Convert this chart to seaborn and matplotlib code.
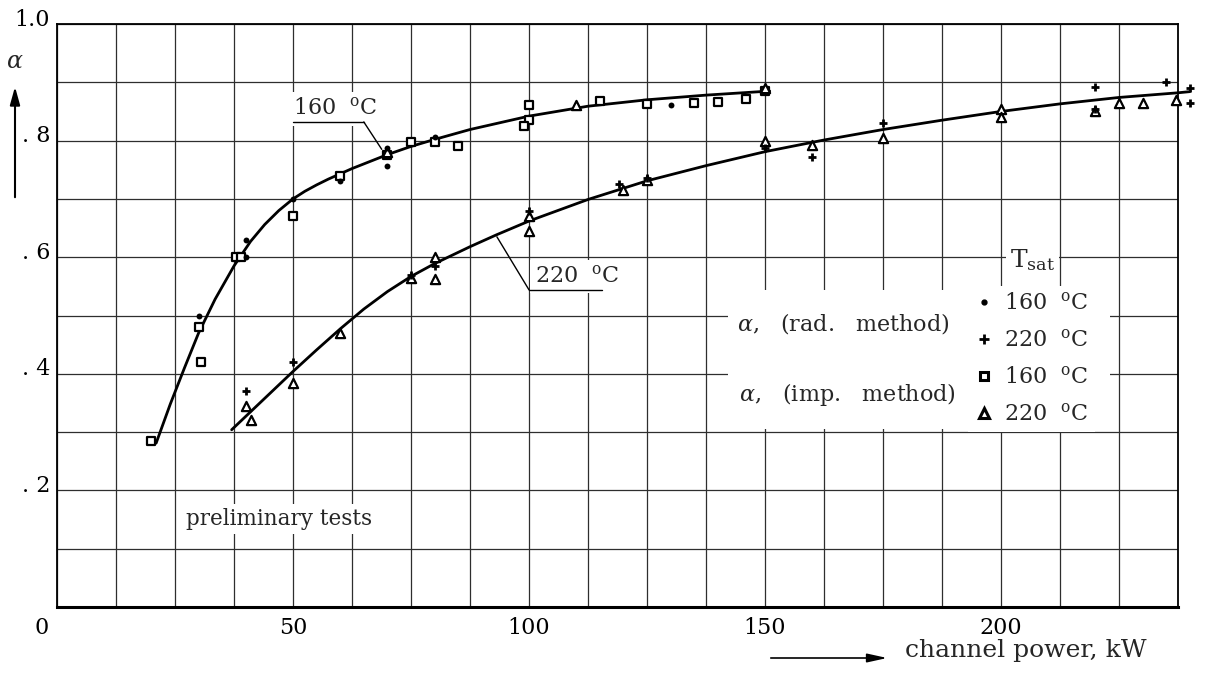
import numpy as np
import pandas as pd
import matplotlib
matplotlib.use("Agg")
import matplotlib.pyplot as plt
import seaborn as sns
from matplotlib.lines import Line2D
from matplotlib.patches import Rectangle
from matplotlib.transforms import ScaledTranslation

# ---------------- data ----------------
# fitted curves
curve160_x = [21, 24, 27, 30, 33.5, 37.5, 41, 44, 47, 50, 52.5, 55, 57.5, 60, 62.5,
              65, 70, 75, 80, 87.5, 100, 112.5, 125, 137.5, 151]
curve160_y = [0.281, 0.348, 0.410, 0.470, 0.528, 0.585, 0.627, 0.656, 0.680, 0.700,
              0.713, 0.724, 0.734, 0.743, 0.752, 0.760, 0.776, 0.790, 0.802, 0.819,
              0.842, 0.859, 0.870, 0.878, 0.885]
curve220_x = [37, 43.5, 50, 55, 60, 65, 70, 75, 80, 87.5, 93, 100, 112.5, 125, 137.5,
              150, 162.5, 175, 187.5, 200, 212.5, 225, 237.5, 240]
curve220_y = [0.304, 0.354, 0.404, 0.441, 0.477, 0.511, 0.541, 0.567, 0.589, 0.618,
              0.638, 0.662, 0.699, 0.731, 0.757, 0.781, 0.801, 0.819, 0.835, 0.850,
              0.863, 0.874, 0.882, 0.884]

# alpha, radiation method
rad160_x = [30, 40, 40, 50, 60, 70, 70, 80, 130]
rad160_y = [0.50, 0.60, 0.63, 0.70, 0.73, 0.787, 0.757, 0.806, 0.861]
rad220_x = [40, 50, 75, 80, 100, 119, 125, 150, 160, 175, 220, 220, 235, 240, 240]
rad220_y = [0.37, 0.42, 0.57, 0.585, 0.68, 0.726, 0.735, 0.787, 0.772, 0.83, 0.892,
            0.855, 0.90, 0.891, 0.864]

# alpha, impedance method
imp160_x = [20, 30, 30.5, 38, 39, 50, 60, 70, 75, 80, 85, 100, 100, 99, 115, 125,
            135, 140, 146, 150]
imp160_y = [0.285, 0.48, 0.42, 0.60, 0.60, 0.67, 0.74, 0.775, 0.797, 0.797, 0.79,
            0.861, 0.835, 0.825, 0.868, 0.863, 0.865, 0.866, 0.871, 0.885]
imp220_x = [40, 41, 50, 60, 70, 75, 80, 80, 100, 100, 110, 120, 125, 150, 150, 160,
            175, 200, 200, 220, 225, 230, 237]
imp220_y = [0.345, 0.32, 0.385, 0.47, 0.78, 0.565, 0.60, 0.562, 0.67, 0.645, 0.861,
            0.715, 0.732, 0.80, 0.89, 0.792, 0.805, 0.855, 0.84, 0.85, 0.864, 0.865,
            0.87]

xtick_vals = [0, 50, 100, 150, 200]
xtick_labels = ["0", "50", "100", "150", "200"]
ytick_vals = [0.2, 0.4, 0.6, 0.8, 1.0]
ytick_labels = [". 2", ". 4", ". 6", ". 8", "1.0"]
legend_labels = [r"160  $^{\mathrm{o}}$C", r"220  $^{\mathrm{o}}$C",
                 r"160  $^{\mathrm{o}}$C", r"220  $^{\mathrm{o}}$C"]

# ---------------- style ----------------
sns.set_theme(style="white")
plt.rcParams['font.family'] = ['DejaVu Serif']
plt.rcParams['mathtext.fontset'] = 'dejavuserif'
FS = 16

W, H = 1207, 673
fig = plt.figure(figsize=(W / 100, H / 100), dpi=100)
ax = fig.add_axes([57 / W, 1 - 607 / H, (1178 - 57) / W, (607 - 24) / H])
ax.set_xlim(0, 237.5)
ax.set_ylim(0, 1.0)

# grid every 12.5 kW and 0.1
ax.set_xticks(xtick_vals)
ax.set_xticklabels(xtick_labels)
ax.set_xticks(np.arange(12.5, 237.5, 12.5), minor=True)
ax.set_yticks(ytick_vals)
ax.set_yticklabels(ytick_labels)
ax.set_yticks(np.arange(0.1, 1.0, 0.1), minor=True)
ax.set_axisbelow(True)
ax.grid(which='both', color='#2e2e2e', linewidth=0.9)
ax.tick_params(axis='both', which='both', length=0, labelsize=FS, colors='black')
ax.tick_params(axis='x', pad=7)
ax.tick_params(axis='y', pad=5)
for sp in ax.spines.values():
    sp.set_color('black')
    sp.set_linewidth(1.3)
ax.spines['bottom'].set_linewidth(2.2)

for lab in ax.get_yticklabels():
    lab.set_transform(lab.get_transform() + ScaledTranslation(0, 0.07, fig.dpi_scale_trans))
xl = ax.get_xticklabels()
xl[0].set_transform(xl[0].get_transform() + ScaledTranslation(-0.15, 0, fig.dpi_scale_trans))

# white region behind the legend text
ax.add_patch(Rectangle((0.599, 0.305), 0.34, 0.239, transform=ax.transAxes,
                       facecolor='white', edgecolor='none', zorder=1))

# ---------------- curves ----------------
df160 = pd.DataFrame({"x": curve160_x, "y": curve160_y})
df220 = pd.DataFrame({"x": curve220_x, "y": curve220_y})
sns.lineplot(data=df160, x="x", y="y", color="black", linewidth=2.0, sort=False,
             estimator=None, ax=ax, legend=False, zorder=2)
sns.lineplot(data=df220, x="x", y="y", color="black", linewidth=2.0, sort=False,
             estimator=None, ax=ax, legend=False, zorder=2, clip_on=False)

# ---------------- points ----------------
sns.scatterplot(x=imp160_x, y=imp160_y, marker='s', s=40, color='white',
                edgecolor='black', linewidth=1.6, ax=ax, zorder=3, clip_on=False)
sns.scatterplot(x=imp220_x, y=imp220_y, marker='^', s=44, color='white',
                edgecolor='black', linewidth=1.6, ax=ax, zorder=3, clip_on=False)
sns.scatterplot(x=rad160_x, y=rad160_y, marker='o', s=18, color='black',
                edgecolor='black', linewidth=0, ax=ax, zorder=4, clip_on=False)
sns.scatterplot(x=rad220_x, y=rad220_y, marker='+', s=36, color='black',
                linewidth=2.0, ax=ax, zorder=4, clip_on=False)
ax.set_xlabel("")
ax.set_ylabel("")

# ---------------- annotations ----------------
ax.text(50.0, 0.844, r"160  $^{\mathrm{o}}$C", fontsize=FS, ha='left', va='baseline',
        zorder=5, bbox=dict(facecolor='white', edgecolor='none', pad=4))
ax.plot([50, 65], [0.832, 0.832], color='black', lw=1.0, zorder=5)
ax.plot([65, 68.8], [0.832, 0.785], color='black', lw=1.0, zorder=5)

ax.text(101.3, 0.557, r"220  $^{\mathrm{o}}$C", fontsize=FS, ha='left', va='baseline',
        zorder=5, bbox=dict(facecolor='white', edgecolor='none', pad=4))
ax.plot([100, 115.5], [0.544, 0.544], color='black', lw=1.0, zorder=5)
ax.plot([100, 93.2], [0.544, 0.635], color='black', lw=1.0, zorder=5)

ax.text(27.3, 0.141, "preliminary tests", fontsize=15.5, ha='left', va='baseline',
        zorder=5, bbox=dict(facecolor='white', edgecolor='none', pad=3))

ax.text(0.607, 0.487, r"$\alpha$,   (rad.   method)", transform=ax.transAxes,
        fontsize=FS, ha='left', va='center', zorder=5)
ax.text(0.608, 0.364, r"$\alpha$,   (imp.   method)", transform=ax.transAxes,
        fontsize=FS, ha='left', va='center', zorder=5)

# legend (T_sat)
ax.text(0.850, 0.583, r"T$_{\mathrm{sat}}$", transform=ax.transAxes, fontsize=18,
        ha='left', va='baseline', zorder=6,
        bbox=dict(facecolor='white', edgecolor='none', pad=3))
handles = [
    Line2D([], [], marker='o', ls='none', color='black', markersize=3.5),
    Line2D([], [], marker='+', ls='none', color='black', markersize=7, mew=2),
    Line2D([], [], marker='s', ls='none', mfc='white', mec='black', markersize=6, mew=2.2),
    Line2D([], [], marker='^', ls='none', mfc='white', mec='black', markersize=7, mew=2.2),
]
leg = ax.legend(handles, legend_labels, loc='center left',
                bbox_to_anchor=(0.8127, 0.4254), frameon=True,
                fontsize=FS, handlelength=0.8, handletextpad=0.5,
                labelspacing=0.68, borderpad=0.3, borderaxespad=0, fancybox=False)
leg.get_frame().set_facecolor('white')
leg.get_frame().set_edgecolor('none')
leg.get_frame().set_alpha(1)

# axis labels with arrows
fig.text(15 / W, 1 - 62 / H, r"$\alpha$", fontsize=17, ha='center', va='center')
ax.annotate('', xy=(15 / W, 1 - 84 / H), xytext=(15 / W, 1 - 200 / H),
            xycoords='figure fraction', textcoords='figure fraction',
            arrowprops=dict(arrowstyle='-|>,head_length=0.9,head_width=0.25',
                            color='black', lw=1.5))
ax.annotate('', xy=(890 / W, 1 - 658 / H), xytext=(768 / W, 1 - 658 / H),
            xycoords='figure fraction', textcoords='figure fraction',
            arrowprops=dict(arrowstyle='-|>,head_length=1.0,head_width=0.22',
                            color='black', lw=1.2))
fig.text(905 / W, 1 - 657 / H, "channel power, kW", fontsize=18, ha='left',
         va='baseline')

fig.savefig("out.png", dpi=100, facecolor='white')
